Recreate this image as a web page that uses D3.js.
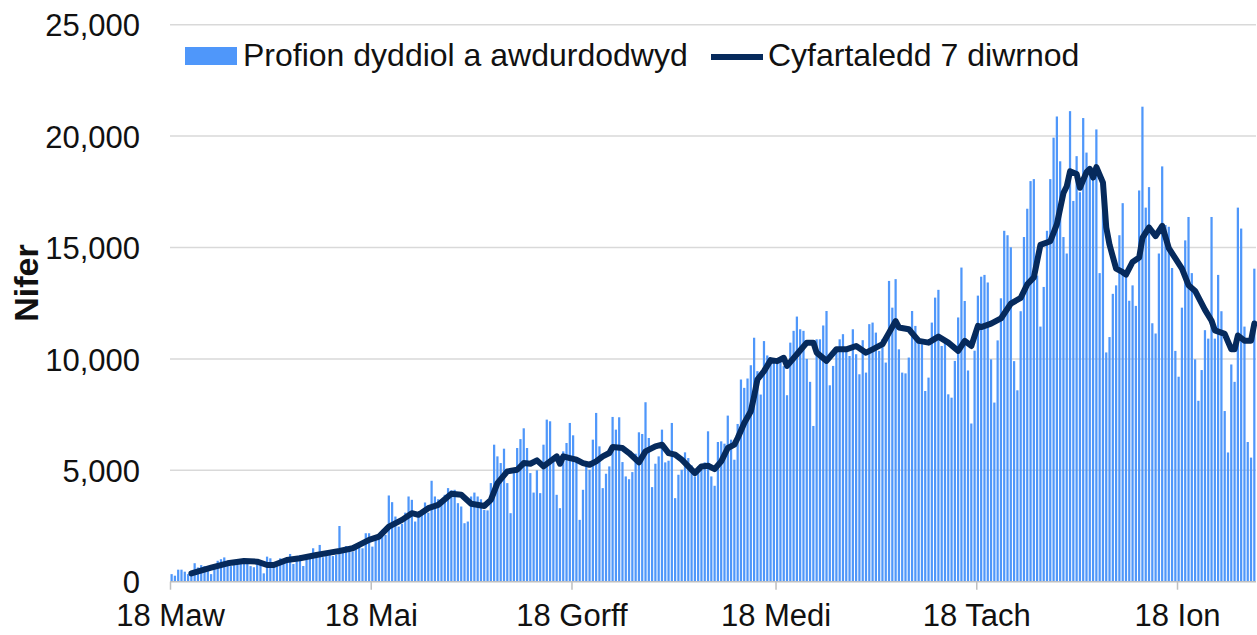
<!DOCTYPE html>
<html>
<head>
<meta charset="utf-8">
<script src="https://cdn.jsdelivr.net/npm/d3@7"></script>
<style>
  html, body { margin: 0; padding: 0; background: #fff; }
  svg { display: block; font-family: "Liberation Sans", Arial, sans-serif; }
</style>
</head>
<body>
<svg id="chart" width="1257" height="635"></svg>
<script>
// ── Data ─────────────────────────────────────────────────────────────
const startDate = "2020-03-18";   // first bar
const endDate   = "2021-02-11";   // right edge of the date axis

// one value per day from 18 Mar 2020 (one row = one week, Wed..Tue)
const dailyTests = [
    340, 270, 540, 540, 450, 340, 300,
    830, 640, 745, 700, 700, 340, 700,
    940, 1010, 1090, 850, 700, 950, 950,
    1000, 1050, 1000, 700, 650, 850, 900,
    375, 1125, 1050, 675, 700, 1050, 1000,
    1050, 1245, 795, 1155, 1200, 705, 1000,
    1050, 1500, 1200, 1650, 1100, 1200, 1250,
    1150, 1200, 2500, 1500, 1600, 1400, 1350,
    1600, 1550, 1500, 2175, 2175, 1575, 2025,
    2000, 2325, 2100, 3870, 3570, 2925, 2475,
    2600, 3100, 3825, 3675, 2700, 3100, 3200,
    3555, 3100, 4530, 3825, 3700, 3675, 3900,
    4200, 4100, 4125, 3525, 3375, 2625, 2700,
    3825, 4000, 3825, 3700, 3225, 3200, 4425,
    6150, 5625, 5325, 5970, 4425, 3075, 4875,
    6000, 6400, 6885, 6000, 4875, 4000, 5000,
    3975, 6150, 7275, 7200, 5500, 3900, 3300,
    5850, 6225, 7125, 6570, 5400, 2775, 4125,
    5325, 5025, 6375, 7575, 6075, 4200, 4845,
    5175, 7395, 6825, 7380, 5370, 4725, 4600,
    4920, 5745, 6705, 6630, 8055, 6450, 4245,
    5295, 5625, 6825, 5355, 5430, 7125, 3750,
    4800, 5025, 5805, 5550, 5220, 4725, 5175,
    5025, 5355, 6750, 4725, 4305, 6270, 6300,
    6195, 7455, 6375, 5475, 7080, 9075, 8700,
    9120, 9715, 10950, 9450, 8400, 10800, 10155,
    10050, 9975, 9900, 9975, 9675, 8370, 10730,
    11260, 11900, 11330, 11260, 10000, 8970, 6990,
    10880, 10880, 11500, 12150, 8815, 9685, 10430,
    10880, 11110, 10400, 10130, 11330, 10210, 9310,
    10840, 9385, 11560, 11630, 11180, 10360, 10880,
    9835, 13500, 12300, 13580, 10430, 9385, 9350,
    10060, 12150, 11480, 10960, 10660, 8560, 9160,
    11630, 12750, 13100, 10580, 10730, 8410, 8260,
    9910, 11860, 14100, 12600, 9480, 7100, 10370,
    12840, 13690, 13770, 13430, 9980, 8040, 10830,
    12720, 15750, 15550, 15010, 9900, 8590, 12140,
    15470, 16740, 17980, 18070, 13740, 11450, 13230,
    15750, 18070, 19930, 20880, 18870, 15470, 14730,
    21120, 17090, 19100, 17480, 20810, 19260, 18640,
    18410, 20300, 13850, 17480, 10290, 10980, 12920,
    13300, 15550, 16990, 13920, 12610, 13300, 12380,
    17560, 21320, 16790, 17710, 11600, 11140, 14730,
    18640, 16010, 15930, 14080, 10360, 9200, 12300,
    15320, 16370, 13850, 9980, 8120, 9500, 11290,
    10910, 16370, 10910, 13770, 12140, 7660, 5800,
    9750, 8970, 16790, 15850, 11450, 6270, 5570,
    14050
];

// 7-day average (day offset from startDate, value)
const avgDays = [
    6, 12, 17, 22, 26, 29, 31, 35, 39, 44, 48, 51, 55, 57, 60, 63, 66, 70, 73, 75,
    78, 81, 85, 88, 91, 95, 97, 99, 102, 105, 107, 109, 111, 113, 115, 117, 118, 119, 121, 123,
    125, 127, 129, 131, 133, 134, 137, 139, 142, 144, 147, 149, 151, 153, 155, 157, 159, 161, 163, 165,
    167, 169, 171, 172, 174, 176, 177, 178, 180, 182, 184, 186, 187, 190, 193, 195, 196, 199, 202, 205,
    208, 211, 213, 216, 218, 220, 221, 224, 227, 230, 233, 236, 239, 241, 243, 245, 246, 249, 252, 255,
    258, 260, 262, 264, 267, 269, 271, 272, 273, 275, 276, 278, 279, 280, 281, 283, 284, 285, 287, 289,
    290, 292, 294, 295, 297, 299, 301, 303, 305, 307, 309, 311, 314, 316, 317, 320, 322, 323, 324, 326,
    328, 329
];
const avgValues = [
    375, 630, 825, 930, 900, 750, 750, 975, 1050, 1200, 1305, 1380, 1500, 1650, 1875, 2025, 2475, 2775, 3075, 3000,
    3300, 3450, 3945, 3900, 3500, 3400, 3675, 4425, 4950, 5025, 5325, 5295, 5445, 5175, 5400, 5625, 5295, 5625, 5550, 5475,
    5325, 5250, 5400, 5625, 5775, 6045, 6000, 5775, 5355, 5850, 6075, 6150, 5775, 5700, 5475, 5175, 4875, 5175, 5205, 5055,
    5400, 6000, 6150, 6450, 7125, 7650, 8325, 9075, 9450, 9945, 9900, 10050, 9685, 10210, 10730, 10730, 10280, 9910, 10430, 10430,
    10580, 10280, 10430, 10660, 11180, 11700, 11410, 11330, 10810, 10730, 11000, 10730, 10360, 10810, 10580, 11480, 11430, 11580, 11815, 12480,
    12740, 13350, 13660, 15120, 15280, 16050, 17450, 17750, 18420, 18300, 17680, 18380, 18530, 18140, 18610, 17910, 15900, 15120, 14050, 13890,
    13780, 14350, 14550, 15430, 15900, 15510, 15970, 14970, 14510, 14050, 13310, 13050, 12200, 11710, 11280, 11120, 10430, 10430, 11050, 10820,
    10820, 11590
];

const tickDates  = ["2020-03-18", "2020-05-18", "2020-07-18", "2020-09-18", "2020-11-18", "2021-01-18"];
const tickLabels = ["18 Maw", "18 Mai", "18 Gorff", "18 Medi", "18 Tach", "18 Ion"];
const yTicks     = [0, 5000, 10000, 15000, 20000, 25000];
const seriesNames = ["Profion dyddiol a awdurdodwyd", "Cyfartaledd 7 diwrnod"];
const yTitle = "Nifer";

// ── Layout ───────────────────────────────────────────────────────────
const PLOT_L = 170, PLOT_R = 1256;
const PLOT_T = 24.7, PLOT_B = 581.7;
const BAR_COL  = "#4f97fa";
const LINE_COL = "#062a5c";
const GRID_COL = "#d9d9d9";
const TEXT_COL = "#111";

const parse = d3.utcParse("%Y-%m-%d");
const t0 = parse(startDate);
const day = i => d3.utcDay.offset(t0, i);

const x = d3.scaleUtc().domain([t0, parse(endDate)]).range([PLOT_L, PLOT_R]);
const y = d3.scaleLinear().domain([0, 25000]).range([PLOT_B, PLOT_T]);
const dayW = x(day(1)) - x(day(0));

const svg = d3.select("#chart");

// gridlines
svg.append("g")
    .selectAll("line")
    .data(yTicks.filter(v => v > 0))
    .join("line")
    .attr("x1", PLOT_L).attr("x2", PLOT_R)
    .attr("y1", d => y(d)).attr("y2", d => y(d))
    .attr("stroke", GRID_COL).attr("stroke-width", 1.5);

// y axis labels
const yAxis = svg.append("g")
    .attr("transform", `translate(${PLOT_L},0)`)
    .call(d3.axisLeft(y).tickValues(yTicks).tickFormat(d3.format(",")).tickSize(0).tickPadding(30));
yAxis.select(".domain").remove();
yAxis.selectAll("text")
    .attr("font-size", 31).attr("fill", TEXT_COL)
    .attr("font-family", "Liberation Sans, Arial, sans-serif")
    .attr("dy", "0.36em");

// bars
svg.append("g")
    .selectAll("rect")
    .data(dailyTests)
    .join("rect")
    .attr("x", (d, i) => x(day(i)) + 0.5)
    .attr("width", dayW * 0.68)
    .attr("y", d => y(d))
    .attr("height", d => y(0) - y(d))
    .attr("fill", BAR_COL);

// x axis
const xAxis = svg.append("g")
    .attr("transform", `translate(0,${PLOT_B})`)
    .call(d3.axisBottom(x)
        .tickValues(tickDates.map(parse))
        .tickFormat((d, i) => tickLabels[i])
        .tickSize(8).tickPadding(14));
xAxis.select(".domain")
    .attr("d", `M${PLOT_L},0H${PLOT_R}`)
    .attr("stroke", "#bfbfbf").attr("stroke-width", 1.5);
xAxis.selectAll(".tick line").attr("stroke", "#bfbfbf").attr("stroke-width", 1.5);
xAxis.selectAll("text")
    .attr("font-size", 31).attr("fill", TEXT_COL)
    .attr("font-family", "Liberation Sans, Arial, sans-serif");

// 7-day average line
const avg = avgDays.map((d, i) => ({ day: d, v: avgValues[i] }));
svg.append("path")
    .datum(avg)
    .attr("fill", "none")
    .attr("stroke", LINE_COL).attr("stroke-width", 6)
    .attr("stroke-linejoin", "round").attr("stroke-linecap", "round")
    .attr("d", d3.line()
        .x(d => x(day(d.day)) + dayW / 2)
        .y(d => y(d.v)));

// y title
svg.append("text")
    .attr("transform", "translate(38,283) rotate(-90)")
    .attr("text-anchor", "middle")
    .attr("font-size", 34).attr("font-weight", "700").attr("fill", TEXT_COL)
    .text(yTitle);

// ── Legend ───────────────────────────────────────────────────────────
const lg = svg.append("g");
lg.append("rect")
    .attr("x", 185).attr("y", 47).attr("width", 52).attr("height", 18)
    .attr("fill", BAR_COL);
lg.append("text")
    .attr("x", 243).attr("y", 66)
    .attr("font-size", 32).attr("fill", TEXT_COL)
    .text(seriesNames[0]);
lg.append("line")
    .attr("x1", 711).attr("x2", 763).attr("y1", 57).attr("y2", 57)
    .attr("stroke", LINE_COL).attr("stroke-width", 6);
lg.append("text")
    .attr("x", 768).attr("y", 66)
    .attr("font-size", 32).attr("fill", TEXT_COL)
    .text(seriesNames[1]);
</script>
</body>
</html>
